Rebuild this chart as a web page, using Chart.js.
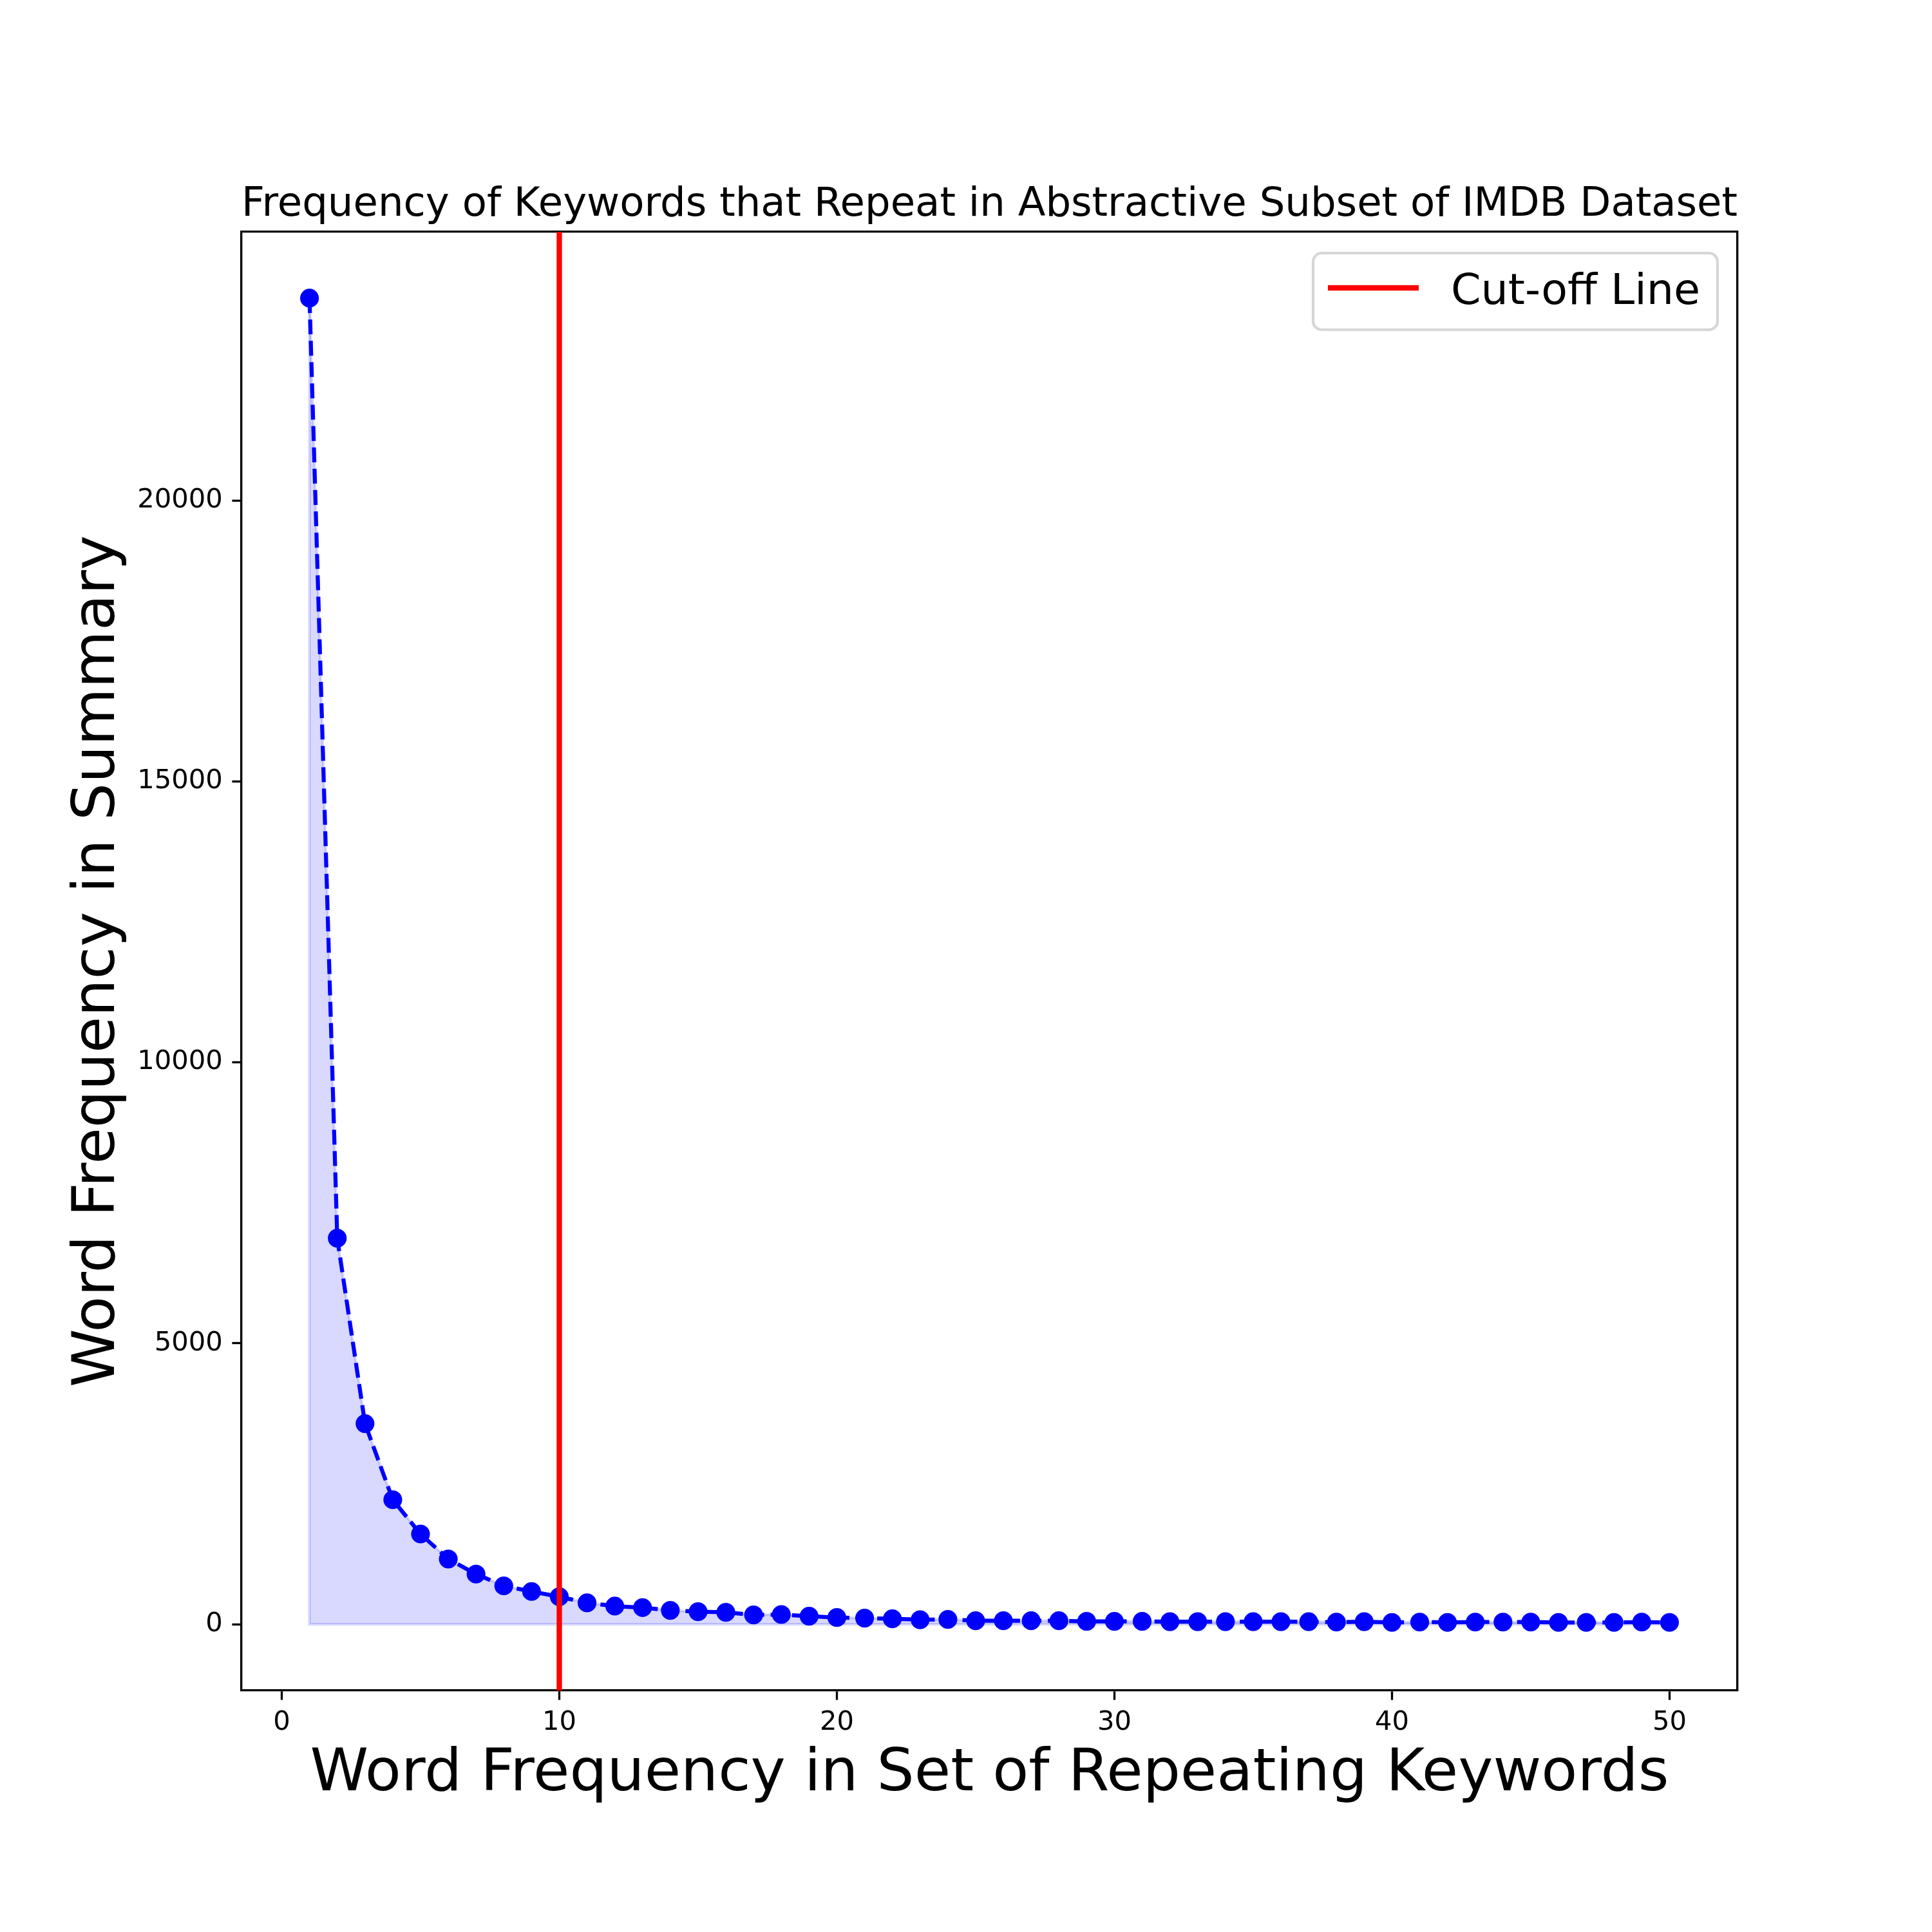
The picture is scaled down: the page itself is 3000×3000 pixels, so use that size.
<!DOCTYPE html>
<html>
<head>
<meta charset="utf-8">
<script src="https://cdn.jsdelivr.net/npm/chart.js@4/dist/chart.umd.min.js"></script>
<style>
  html, body { margin: 0; padding: 0; background: #ffffff; }
  #wrap { width: 3000px; height: 3000px; }
  canvas { display: block; }
</style>
</head>
<body>
<div id="wrap"><canvas id="c" width="3000" height="3000"></canvas></div>
<script>
// ---------------- data ----------------
const chartTitle = 'Frequency of Keywords that Repeat in Abstractive Subset of IMDB Dataset';
const xAxisTitle = 'Word Frequency in Set of Repeating Keywords';
const yAxisTitle = 'Word Frequency in Summary';
const legendLabel = 'Cut-off Line';

const keywordFreq = [1,2,3,4,5,6,7,8,9,10,11,12,13,14,15,16,17,18,19,20,
  21,22,23,24,25,26,27,28,29,30,31,32,33,34,35,36,37,38,39,40,
  41,42,43,44,45,46,47,48,49,50];
const summaryFreq = [23600,6870,3570,2215,1605,1160,892,682,582,489,
  380,322,295,246,222,211,165,172,142,119,
  108,96,80,85,62,62,62,62,50,50,
  50,45,45,45,45,45,44,38,45,32,
  38,32,38,38,38,32,32,32,38,32];
const cutoffValue = 10;

const xTicks = [0,10,20,30,40,50];
const xTickLabels = ['0','10','20','30','40','50'];
const yTicks = [0,5000,10000,15000,20000];
const yTickLabels = ['0','5000','10000','15000','20000'];

const xMin = -1.45, xMax = 52.45;
const yMin = -1180, yMax = 24780;

// ---------------- style ----------------
const FONT = "'DejaVu Sans'";
const PT = 300 / 72;
const BLUE = '#0000ff';
const FILL = 'rgba(0,0,255,0.15)';

Chart.defaults.font.family = FONT;
Chart.defaults.color = '#000';

const seriesPoints = keywordFreq.map((x, i) => ({ x: x, y: summaryFreq[i] }));
const last = keywordFreq.length - 1;
const outlinePoints = [
  { x: keywordFreq[0], y: summaryFreq[0] },
  { x: keywordFreq[0], y: 0 },
  { x: keywordFreq[last], y: 0 },
  { x: keywordFreq[last], y: summaryFreq[last] }
];
const cutoffPoints = [{ x: cutoffValue, y: yMin }, { x: cutoffValue, y: yMax }];

const legendBoxPlugin = {
  id: 'legendBox',
  afterDraw(chart) {
    const ds = chart.data.datasets.find(d => d.inLegend);
    if (!ds) return;
    const ctx = chart.ctx;
    const ca = chart.chartArea;
    const fs = 16 * PT;
    ctx.save();
    ctx.font = fs + 'px ' + FONT;
    const tw = ctx.measureText(ds.label).width;
    const w = 217 + tw + 24;
    const h = 119;
    const right = ca.right - 31;
    const top = ca.top + 33;
    const left = right - w;
    const r = 0.2 * fs;
    ctx.beginPath();
    ctx.moveTo(left + r, top);
    ctx.lineTo(right - r, top);
    ctx.arcTo(right, top, right, top + r, r);
    ctx.lineTo(right, top + h - r);
    ctx.arcTo(right, top + h, right - r, top + h, r);
    ctx.lineTo(left + r, top + h);
    ctx.arcTo(left, top + h, left, top + h - r, r);
    ctx.lineTo(left, top + r);
    ctx.arcTo(left, top, left + r, top, r);
    ctx.closePath();
    ctx.fillStyle = 'rgba(255,255,255,0.8)';
    ctx.fill();
    ctx.lineWidth = 1 * PT;
    ctx.strokeStyle = 'rgba(204,204,204,0.8)';
    ctx.stroke();
    // handle
    ctx.beginPath();
    ctx.moveTo(left + 23, top + 54);
    ctx.lineTo(left + 164, top + 54);
    ctx.strokeStyle = ds.borderColor;
    ctx.lineWidth = ds.borderWidth;
    ctx.lineCap = 'butt';
    ctx.stroke();
    // text
    ctx.fillStyle = '#000';
    ctx.textAlign = 'left';
    ctx.textBaseline = 'alphabetic';
    ctx.fillText(ds.label, left + 214, top + 79);
    ctx.restore();
  }
};

const tickFont = { family: FONT, size: 10 * PT };
const labelFont = { family: FONT, size: 22 * PT };

new Chart(document.getElementById('c'), {
  type: 'line',
  data: {
    datasets: [
      {
        label: legendLabel,
        inLegend: true,
        data: cutoffPoints,
        borderColor: '#ff0000',
        borderWidth: 2 * PT,
        pointRadius: 0,
        fill: false
      },
      {
        label: 'series',
        data: seriesPoints,
        borderColor: BLUE,
        backgroundColor: BLUE,
        borderWidth: 1.5 * PT,
        borderDash: [3.7 * 1.5 * PT, 1.6 * 1.5 * PT],
        borderJoinStyle: 'round',
        pointRadius: 3 * PT,
        pointBorderWidth: 1 * PT,
        pointBorderColor: BLUE,
        pointBackgroundColor: BLUE,
        fill: false,
        tension: 0
      },
      {
        label: 'area',
        data: seriesPoints,
        borderColor: FILL,
        backgroundColor: FILL,
        borderWidth: 1 * PT,
        pointRadius: 0,
        fill: 'origin',
        tension: 0
      },
      {
        label: 'areaEdge',
        data: outlinePoints,
        borderColor: FILL,
        borderWidth: 1 * PT,
        pointRadius: 0,
        fill: false
      }
    ]
  },
  options: {
    responsive: false,
    maintainAspectRatio: false,
    devicePixelRatio: 1,
    animation: false,
    events: [],
    layout: { padding: { left: 0, right: 302, top: 281.25, bottom: 0 } },
    plugins: {
      legend: { display: false },
      tooltip: { enabled: false },
      title: {
        display: true,
        text: chartTitle,
        fullSize: false,
        color: '#000',
        font: { family: FONT, size: 15 * PT, weight: 'normal', lineHeight: 1.2 },
        padding: { top: 0, bottom: 3.75 }
      }
    },
    scales: {
      x: {
        type: 'linear',
        position: 'bottom',
        min: xMin,
        max: xMax,
        afterBuildTicks: s => { s.ticks = xTicks.map(v => ({ value: v })); },
        afterFit: s => { s.height = 375; },
        ticks: {
          font: tickFont, color: '#000', padding: 10.6,
          maxRotation: 0, minRotation: 0, autoSkip: false,
          callback: (v, i) => xTickLabels[i]
        },
        grid: { drawOnChartArea: false, drawTicks: true, tickLength: 3.5 * PT, tickWidth: 0.8 * PT, tickColor: '#000' },
        border: { display: true, color: '#000', width: 0.8 * PT },
        title: { display: true, text: xAxisTitle, color: '#000', font: labelFont, padding: { top: 0, bottom: 188.8 } }
      },
      y: {
        type: 'linear',
        position: 'left',
        min: yMin,
        max: yMax,
        afterBuildTicks: s => { s.ticks = yTicks.map(v => ({ value: v })); },
        afterFit: s => { s.width = 375; },
        ticks: {
          font: tickFont, color: '#000', padding: 3.5 * PT, autoSkip: false,
          callback: (v, i) => yTickLabels[i]
        },
        grid: { drawOnChartArea: false, drawTicks: true, tickLength: 3.5 * PT, tickWidth: 0.8 * PT, tickColor: '#000' },
        border: { display: true, color: '#000', width: 0.8 * PT },
        title: { display: true, text: yAxisTitle, color: '#000', font: labelFont, padding: { top: 98.5, bottom: 0 } }
      },
      x2: {
        type: 'linear',
        position: 'top',
        min: xMin,
        max: xMax,
        afterFit: s => { s.height = 0; },
        ticks: { display: false },
        grid: { display: false, drawTicks: false },
        border: { display: true, color: '#000', width: 0.8 * PT }
      },
      y2: {
        type: 'linear',
        position: 'right',
        min: yMin,
        max: yMax,
        afterFit: s => { s.width = 0; },
        ticks: { display: false },
        grid: { display: false, drawTicks: false },
        border: { display: true, color: '#000', width: 0.8 * PT }
      }
    }
  },
  plugins: [legendBoxPlugin]
});
</script>
</body>
</html>
